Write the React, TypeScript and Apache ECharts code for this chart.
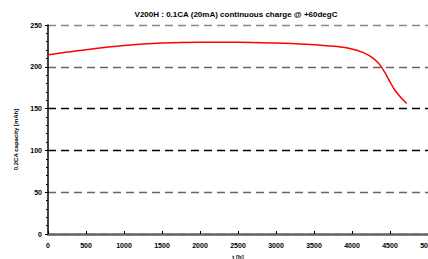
import React, { useEffect, useRef } from "react";
import * as echarts from "echarts";

const subtitle = "V200H : 0.1CA (20mA) continuous charge @ +60degC";
const xName = "t [h]";
const yName = "0.2CA capacity [mAh]";
const hours = [0, 500, 1000, 1500, 2000, 2500, 3000, 3400, 3700, 3970, 4150, 4280, 4370, 4430, 4500, 4560, 4640, 4720];
const capacity = [214.5, 220.5, 225.5, 228.5, 229.5, 229.5, 228.5, 227, 225, 222, 217, 210, 202, 193.5, 182, 172.5, 163.5, 156];

export default function App() {
  const ref = useRef<HTMLDivElement>(null);
  useEffect(() => {
    const chart = echarts.init(ref.current!, null, { renderer: "svg" });
    const font = "Liberation Sans, Arial, sans-serif";
    chart.setOption({
      animation: false,
      title: {
        text: subtitle,
        left: 231,
        textAlign: "center",
        top: 5,
        textStyle: { fontSize: 8, fontWeight: "bold", fontFamily: font, color: "#000" },
      },
      grid: { left: 48, right: 0, top: 25, bottom: 25, containLabel: false, outerBoundsMode: "none" },
      xAxis: {
        type: "value",
        min: 0,
        max: 5000,
        interval: 500,
        name: xName,
        nameLocation: "middle",
        nameGap: 18,
        nameTextStyle: { fontSize: 6, fontWeight: "bold", fontFamily: font, color: "#000" },
        axisLine: { lineStyle: { color: "#666", width: 2.5 } },
        axisTick: { inside: true, length: 3, lineStyle: { color: "#000" } },
        axisLabel: {
          fontSize: 7,
          fontWeight: "bold",
          fontFamily: font,
          color: "#000",
          margin: 8,
          showMaxLabel: true,
          formatter: (v: number) => String(v),
        },
        splitLine: { show: false },
      },
      yAxis: {
        type: "value",
        min: 0,
        max: 250,
        interval: 50,
        name: yName,
        nameLocation: "middle",
        nameGap: 21,
        nameTextStyle: { fontSize: 6, fontWeight: "bold", fontFamily: font, color: "#000", padding: [0, 0, 0, -20] },
        axisLine: { show: true, lineStyle: { color: "#000", width: 1.5 } },
        axisTick: { show: true, length: 3, lineStyle: { color: "#000" } },
        minorTick: { show: true, splitNumber: 5, length: 2, lineStyle: { color: "#000" } },
        axisLabel: { fontSize: 7, fontWeight: "bold", fontFamily: font, color: "#000", margin: 6 },
        splitLine: {
          show: true,
          lineStyle: {
            color: ["#555", "#666", "#000", "#000", "#666", "#888"],
            width: 1.3,
            type: [8, 5],
          },
        },
      },
      series: [
        {
          type: "line",
          data: hours.map((h, i) => [h, capacity[i]]),
          smooth: 0.3,
          showSymbol: false,
          lineStyle: { color: "#ff0000", width: 1.5 },
        },
      ],
    });
    return () => chart.dispose();
  }, []);
  return <div ref={ref} style={{ width: 428, height: 259, position: "absolute", left: 0, top: 0 }} />;
}
